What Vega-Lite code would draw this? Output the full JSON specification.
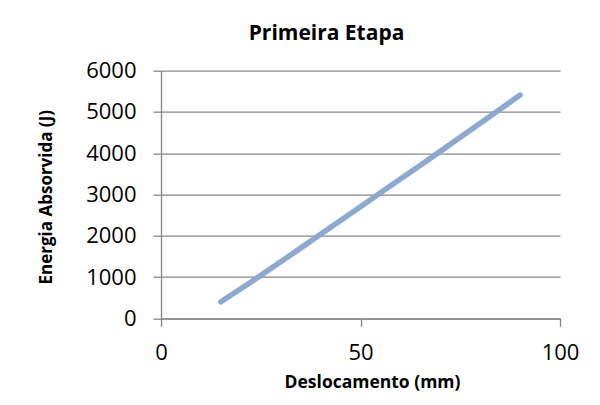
{
  "$schema": "https://vega.github.io/schema/vega-lite/v6.json",
  "autosize": {"type": "none"},
  "width": 399,
  "height": 247.6,
  "padding": {"left": 161, "top": 70.7, "right": 40, "bottom": 86},
  "background": "white",
  "title": {
    "text": "Primeira Etapa",
    "font": "Open Sans",
    "fontSize": 21,
    "fontWeight": "bold",
    "color": "#000000",
    "anchor": "middle",
    "frame": "group",
    "baseline": "alphabetic",
    "dx": -34,
    "offset": -1
  },
  "data": {
    "values": [
      {"x": 15, "y": 400},
      {"x": 20, "y": 715},
      {"x": 25, "y": 1040},
      {"x": 30, "y": 1370},
      {"x": 35, "y": 1700},
      {"x": 40, "y": 2035},
      {"x": 45, "y": 2370},
      {"x": 50, "y": 2705},
      {"x": 55, "y": 3040},
      {"x": 60, "y": 3375},
      {"x": 65, "y": 3710},
      {"x": 70, "y": 4045},
      {"x": 75, "y": 4385},
      {"x": 80, "y": 4725},
      {"x": 85, "y": 5065},
      {"x": 90, "y": 5410}
    ]
  },
  "mark": {"type": "line", "color": "#8ea9d0", "strokeWidth": 5.5, "strokeCap": "round", "strokeJoin": "round"},
  "encoding": {
    "x": {
      "field": "x",
      "type": "quantitative",
      "scale": {"domain": [0, 100], "nice": false, "zero": false},
      "axis": {
        "title": "Deslocamento (mm)",
        "values": [0, 50, 100],
        "format": "d",
        "grid": false,
        "domainColor": "#868686",
        "domainWidth": 1.3,
        "tickColor": "#868686",
        "tickWidth": 1.3,
        "tickSize": 8,
        "labelFont": "Open Sans",
        "labelFontSize": 22,
        "labelColor": "#000000",
        "labelPadding": 16,
        "labelFlush": false,
        "titleFont": "Open Sans",
        "titleFontSize": 17.5,
        "titleFontWeight": "bold",
        "titleColor": "#000000",
        "titleBaseline": "alphabetic",
        "titleX": 211,
        "titleY": 69
      }
    },
    "y": {
      "field": "y",
      "type": "quantitative",
      "scale": {"domain": [0, 6000], "nice": false},
      "axis": {
        "title": "Energia Absorvida (J)",
        "values": [0, 1000, 2000, 3000, 4000, 5000, 6000],
        "format": "d",
        "grid": true,
        "gridColor": "#868686",
        "gridWidth": 1.2,
        "domainColor": "#868686",
        "domainWidth": 1.3,
        "tickColor": "#868686",
        "tickWidth": 1.3,
        "tickSize": 8,
        "labelFont": "Open Sans",
        "labelFontSize": 22,
        "labelColor": "#000000",
        "labelPadding": 17,
        "labelFlush": false,
        "titleFont": "Open Sans",
        "titleFontSize": 17,
        "titleFontWeight": "bold",
        "titleColor": "#000000",
        "titleBaseline": "alphabetic",
        "titleAngle": -90,
        "titleX": -109.5,
        "titleY": 126
      }
    }
  },
  "config": {"view": {"stroke": null}}
}
